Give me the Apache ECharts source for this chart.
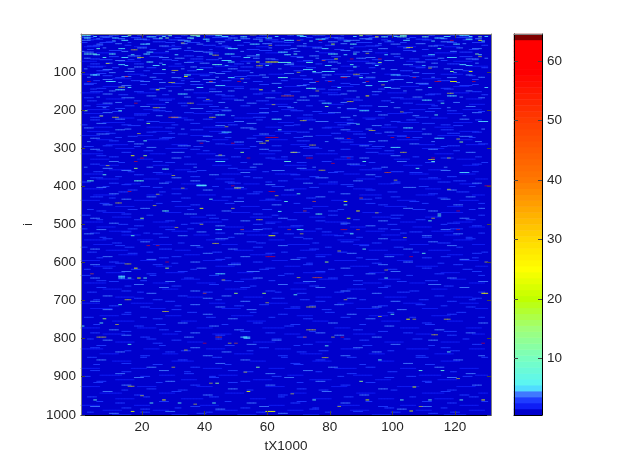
<!DOCTYPE html>
<html>
<head>
<meta charset="utf-8">
<title>heatmap</title>
<style>
html,body{margin:0;padding:0;background:#fff}
#chart{width:622px;height:468px}
</style>
<script src="https://cdn.jsdelivr.net/npm/echarts@6/dist/echarts.min.js"></script>
</head>
<body>
<div id="chart"></div>
<script>
// marks, one row per entry: [i, t, run of columns, level]
var band0 = [[5,1,3,7],[5,16,1,14],[5,29,1,9],[5,36,3,12],[5,44,2,6],[5,70,2,5],[5,90,1,16],[5,103,2,9],[5,122,3,5],
[8,7,4,4],[8,22,3,5],[8,52,2,6],[8,95,1,24],[8,97,2,7],[8,102,3,10],[8,110,2,9],[8,128,1,14],
[11,2,2,6],[11,11,2,5],[11,26,1,9],[11,28,1,13],[11,35,2,7],[11,48,3,4],[11,60,2,5],[11,82,3,4],[11,114,3,5],
[14,5,3,3],[14,18,4,4],[14,40,2,5],[14,56,3,4],[14,76,3,5],[14,92,2,4],[14,108,4,3],[14,124,2,6],
[17,1,3,4],[17,14,2,5],[17,32,3,4],[17,50,2,6],[17,66,3,5],[17,86,4,4],[17,104,2,5],[17,128,1,22],
[21,9,3,3],[21,24,4,3],[21,44,3,4],[21,62,4,3],[21,80,3,4],[21,98,3,3],[21,116,4,4],
[27,6,2,4],[27,20,3,5],[27,38,2,4],[27,55,3,5],[27,81,1,18],[27,87,2,6],[27,100,3,4],[27,120,2,5],
[32,3,4,3],[32,26,3,4],[32,46,2,3],[32,70,3,4],[32,92,4,3],[32,112,3,4],
[39,6,1,7],[39,13,2,5],[39,30,3,4],[39,48,3,5],[39,68,2,4],[39,78,2,5],[39,96,3,4],[39,115,1,7],[39,126,3,4],
[44,10,4,3],[44,34,3,3],[44,58,4,3],[44,84,3,4],[44,104,4,3],
[48,2,3,4],[48,22,2,5],[48,40,3,4],[48,64,3,5],[48,88,2,4],[48,122,4,3],
[53,2,4,7],[53,10,2,6],[53,21,2,5],[53,42,1,7],[53,47,3,5],[53,69,1,7],[53,80,3,6],[53,88,1,7],[53,100,3,4],[53,127,1,13],
[58,16,4,4],[58,34,3,3],[58,54,4,4],[58,74,3,4],[58,110,4,3],
[62,8,1,6],[62,14,2,5],[62,26,3,4],[62,53,2,5],[62,70,2,4],[62,92,3,4],[62,118,3,5],
[66,4,3,3],[66,36,4,3],[66,60,3,4],[66,82,1,22],[66,106,3,3],[66,124,4,4],
[70,12,3,4],[70,30,2,3],[70,46,3,5],[70,72,3,3],[70,98,3,4],[70,116,2,3],
[74,22,2,6],[74,48,2,5],[74,57,1,22],[74,60,4,23],[74,80,3,4],[74,108,3,4],
[75,64,4,7],[75,73,2,7],[75,96,1,16],[75,34,3,4],
[81,13,2,5],[81,27,1,6],[81,43,3,7],[81,66,3,4],[81,87,1,6],[81,104,3,4],[81,122,2,5],
[87,4,4,3],[87,18,3,4],[87,36,2,4],[87,52,4,3],[87,88,1,7],[87,112,3,4],
[94,27,1,8],[94,38,2,6],[94,8,3,4],[94,72,3,5],[94,100,2,4],[94,120,3,4],
[99,15,3,4],[99,46,3,3],[99,75,1,7],[99,78,4,5],[99,119,1,14],[99,125,1,23]];
var band1 = [[104,6,3,3],[104,24,4,3],[104,44,3,4],[104,66,3,4],[104,90,3,3],[104,110,4,3],
[108,4,2,5],[108,5,2,5],[108,34,2,6],[108,58,2,4],[108,78,3,4],[108,100,3,5],[108,124,2,4],
[112,34,1,23],[112,14,3,4],[112,50,4,3],[112,84,3,4],[112,106,3,3],
[115,64,3,7],[115,90,1,7],[115,30,3,4],[115,48,2,5],[115,118,3,4],[115,12,3,3],
[120,8,3,4],[120,24,3,3],[120,40,4,4],[120,72,3,3],[120,100,4,4],[120,126,2,3],
[125,9,2,5],[125,10,2,5],[125,20,3,4],[125,36,3,4],[125,56,3,3],[125,96,3,5],[125,119,2,23],
[130,2,4,3],[130,30,4,3],[130,62,3,4],[130,84,3,3],[130,108,4,4],
[136,14,3,4],[136,44,3,5],[136,70,3,4],[136,92,2,5],[136,122,4,3],
[143,6,3,3],[143,26,2,4],[143,50,3,3],[143,73,3,7],[143,100,3,4],[143,116,3,3],
[147,25,1,23],[147,58,1,22],[147,34,3,4],[147,12,3,5],[147,80,4,3],[147,108,2,4],
[152,4,4,3],[152,18,3,3],[152,42,4,4],[152,68,3,3],[152,94,3,4],[152,126,3,3],
[158,8,3,4],[158,32,3,5],[158,56,3,3],[158,84,2,4],[158,112,4,3],
[163,22,3,4],[163,46,4,3],[163,92,1,24],[163,74,3,4],[163,118,3,5],
[168,2,3,3],[168,14,4,4],[168,38,3,3],[168,60,3,4],[168,100,4,3],[168,128,2,4],
[174,26,4,3],[174,50,3,4],[174,70,4,4],[174,88,3,3],[174,110,3,5],
[182,8,3,4],[182,32,3,3],[182,54,3,4],[182,78,3,5],[182,116,1,7],[182,104,3,3],
[191,79,1,14],[191,6,4,3],[191,20,3,4],[191,42,3,3],[191,64,4,3],[191,96,3,4],[191,124,3,4],
[196,12,3,3],[196,36,4,4],[196,58,3,3],[196,86,3,4],[196,112,4,3]];
var band2 = [[202,2,1,14],[202,13,1,7],[202,24,4,3],[202,46,3,4],[202,68,4,3],[202,90,3,5],[202,118,3,3],
[207,8,3,4],[207,34,3,3],[207,58,3,4],[207,80,4,4],[207,104,3,3],[207,126,3,4],
[213,18,4,3],[213,44,3,5],[213,72,3,3],[213,96,3,4],[213,114,1,7],
[219,4,3,3],[219,30,3,4],[219,56,4,3],[219,84,3,4],[219,108,4,3],
[224,12,3,4],[224,40,3,3],[224,62,3,5],[224,92,3,3],[224,122,3,4],
[230,22,4,3],[230,50,3,4],[230,76,4,4],[230,100,3,3],[230,128,3,5],
[235,22,1,14],[235,6,3,4],[235,36,3,3],[235,54,3,4],[235,86,3,4],[235,110,4,3],
[237,89,1,7],[241,16,4,3],[241,44,3,4],[241,66,3,3],[241,94,3,4],[241,120,3,3],
[247,2,3,4],[247,28,3,3],[247,52,4,4],[247,78,3,3],[247,104,3,5],
[252,64,1,7],[252,12,3,4],[252,36,4,3],[252,84,3,4],[252,116,4,3],
[258,22,3,3],[258,46,3,5],[258,70,4,3],[258,98,3,4],[258,126,3,3],
[263,6,4,4],[263,32,3,3],[263,58,3,4],[263,88,4,3],[263,110,3,4],
[269,16,3,3],[269,40,3,4],[269,72,3,4],[269,102,3,3],[269,122,4,4],
[274,4,3,4],[274,26,4,3],[274,54,3,3],[274,82,3,4],[274,114,3,5],
[281,21,1,7],[281,60,1,24],[281,10,3,3],[281,38,3,4],[281,70,4,3],[281,96,3,4],
[284,122,1,14],[284,50,3,4],[284,84,4,3],[289,18,3,4],[289,44,3,3],[289,106,3,4],[289,128,3,3],
[294,8,3,3],[294,32,4,4],[294,62,3,3],[294,90,3,4],[294,118,4,3],[298,22,3,4],[298,74,3,3],[298,100,3,5]];
var band3 = [[303,4,3,4],[303,36,3,3],[303,58,3,4],[303,84,3,3],[303,112,3,4],
[311,52,1,14],[311,14,3,3],[311,30,4,4],[311,68,3,4],[311,92,4,3],[311,124,3,4],
[320,17,1,23],[320,21,1,16],[320,6,3,3],[320,44,3,4],[320,72,3,3],[320,100,3,4],
[326,30,3,4],[326,60,3,3],[326,90,3,4],[326,116,4,3],
[335,66,2,7],[335,91,1,7],[335,113,1,7],[335,10,3,4],[335,24,3,3],[335,44,3,5],[335,78,3,3],[335,102,3,4],
[342,4,3,3],[342,34,4,3],[342,56,3,4],[342,86,4,4],[342,126,3,3],
[353,18,1,16],[353,108,1,7],[353,8,3,4],[353,48,3,3],[353,70,3,4],[353,94,3,3],
[355,27,2,7],[359,14,3,4],[359,38,3,3],[359,62,4,4],[359,116,3,4],
[364,24,3,3],[364,52,3,4],[364,80,3,3],[364,106,4,3],[364,122,3,5],
[370,8,1,7],[370,18,3,3],[370,42,3,4],[370,68,3,3],[370,92,3,4],
[378,4,4,3],[378,30,3,4],[378,56,3,3],[378,76,4,4],[378,112,3,3],
[386,3,2,7],[386,18,3,7],[386,36,3,4],[386,64,3,3],[386,88,3,4],[386,120,4,3],
[392,10,3,3],[392,26,3,4],[392,48,4,3],[392,72,3,4],[392,100,3,3],[392,126,3,4],
[397,38,3,5],[398,38,3,5],[399,38,3,5],[396,14,3,3],[396,60,3,4],[396,84,4,3]];
var band4 = [[403,6,3,4],[403,24,3,3],[403,50,3,4],[403,74,3,3],[403,104,4,4],
[410,16,3,3],[410,40,3,4],[410,66,3,4],[410,92,3,3],[410,118,3,4],
[420,70,1,7],[420,10,3,4],[420,30,3,3],[420,54,4,3],[420,84,3,4],[420,112,3,3],
[428,4,4,3],[428,22,3,4],[428,46,3,3],[428,76,3,4],[428,100,3,3],[428,124,3,4],
[434,42,1,7],[434,14,3,4],[434,60,3,3],[434,90,4,3],[434,116,3,4],
[440,66,1,7],[440,85,1,23],[440,30,3,3],[440,50,3,4],[440,106,3,3],
[449,85,1,7],[449,8,3,4],[449,36,3,3],[449,62,3,4],[449,96,3,3],[449,120,3,4],
[458,39,1,23],[458,20,3,4],[458,72,3,3],[458,104,3,4],[458,128,2,4],
[465,89,1,24],[465,27,2,7],[466,64,1,6],[465,6,3,3],[465,46,3,4],[465,80,3,3],[465,112,3,4],
[473,76,2,7],[473,115,1,7],[478,115,1,7],[473,14,3,3],[473,34,4,4],[473,56,3,3],
[484,20,1,16],[484,86,1,20],[484,4,3,4],[484,42,3,3],[484,64,3,4],[484,100,3,3],[484,122,3,4],
[491,112,1,7],[491,28,3,3],[491,52,3,4],[491,76,3,3],[491,96,3,4],
[497,10,3,4],[497,36,4,3],[497,60,3,3],[497,84,3,4],[497,118,4,3]];
var band5 = [[504,18,3,3],[504,44,3,4],[504,68,4,3],[504,92,3,4],[504,126,3,3],
[514,44,2,5],[514,70,2,7],[514,6,3,4],[514,28,3,3],[514,56,3,4],[514,100,3,3],[514,116,3,4],
[520,14,3,3],[520,38,3,4],[520,78,3,3],[520,106,4,3],
[525,87,1,7],[525,2,3,4],[525,24,3,3],[525,50,3,4],[525,66,3,3],[525,120,3,4],
[530,17,1,7],[530,61,2,23],[530,32,3,4],[530,82,3,3],[530,110,3,4],
[538,8,3,3],[538,44,4,4],[538,72,3,3],[538,96,3,4],[538,124,3,3],
[546,20,3,4],[546,54,3,3],[546,84,4,3],[546,112,3,4],
[556,12,3,3],[556,36,3,4],[556,64,3,4],[556,90,3,3],[556,118,3,4],
[565,91,1,7],[565,4,3,4],[565,26,4,3],[565,48,3,4],[565,74,3,3],[565,104,3,4],
[576,110,1,7],[576,16,3,3],[576,40,3,4],[576,60,3,3],[576,86,3,4],[576,126,3,3],
[585,8,3,4],[585,30,3,3],[585,52,3,4],[585,76,3,3],[585,98,3,4],[585,116,3,3],
[592,22,3,4],[592,44,3,3],[592,68,3,4],[592,92,4,3],[592,122,3,4],
[599,79,1,16],[599,10,3,3],[599,36,3,4],[599,56,3,3],[599,104,3,4]];
var band6 = [[606,4,3,4],[606,24,3,3],[606,48,4,4],[606,72,3,3],[606,96,3,4],[606,120,3,3],
[615,18,1,23],[615,28,1,16],[615,8,3,3],[615,38,3,4],[615,60,3,3],[615,84,3,4],[615,110,3,3],
[624,14,3,4],[624,32,3,3],[624,54,4,4],[624,76,3,3],[624,100,3,4],[624,126,3,3],
[630,22,3,3],[630,44,3,5],[630,66,3,3],[630,92,3,4],[630,114,3,3],
[636,13,2,5],[638,13,2,5],[641,13,2,5],[641,16,1,7],[641,19,1,22],[641,21,1,7],[641,98,1,7],[641,4,3,4],[641,34,3,3],[641,56,3,4],[641,80,3,3],[641,118,3,4],
[650,10,3,3],[650,28,3,4],[650,50,3,3],[650,72,4,4],[650,102,3,3],[650,128,3,4],
[658,18,3,4],[658,42,3,3],[658,64,3,4],[658,88,3,3],[658,112,4,4],
[666,6,3,3],[666,26,3,4],[666,52,3,3],[666,76,3,4],[666,96,3,3],[666,122,3,4],
[675,14,3,3],[675,36,3,4],[675,60,3,3],[675,84,3,4],[675,106,3,3],
[681,50,1,16],[681,59,1,16],[681,129,2,24],[681,22,3,4],[681,70,3,3],[681,94,3,4],
[685,69,1,7],[688,8,3,4],[688,32,3,3],[688,46,3,4],[688,114,3,3],
[694,18,3,3],[694,40,3,4],[694,62,4,3],[694,86,3,4],[694,126,3,3]];
var band7 = [[702,4,3,4],[702,28,3,3],[702,52,3,4],[702,76,3,3],[702,100,3,4],[702,118,3,3],
[711,13,1,7],[711,36,3,4],[711,58,3,3],[711,82,3,4],[711,108,3,3],
[717,20,3,3],[717,44,3,4],[717,68,3,3],[717,94,3,4],[717,124,3,3],
[724,8,3,4],[724,30,3,3],[724,54,3,4],[724,78,3,3],[724,102,3,4],
[736,100,1,7],[736,14,3,3],[736,40,3,4],[736,64,3,3],[736,86,3,4],[736,118,3,3],
[748,8,1,16],[749,105,1,23],[748,24,3,3],[748,48,3,4],[748,72,3,3],[748,92,3,4],
[759,7,1,7],[759,32,3,4],[759,56,3,3],[759,80,3,4],[759,110,3,3],[759,128,3,4],
[767,1,1,7],[767,18,3,3],[767,42,3,4],[767,66,3,3],[767,98,3,4],
[777,10,3,4],[777,26,3,3],[777,50,3,4],[777,88,3,3],[777,114,3,4],
[785,4,3,3],[785,36,3,4],[785,60,3,3],[785,76,3,4],[785,104,3,3],[785,124,3,4],
[796,53,1,7],[796,52,3,5],[796,20,3,3],[796,34,3,4],[796,70,3,3],[796,94,3,4],
[799,53,2,5],[791,14,3,4],[791,44,3,3],[791,82,3,4],[791,118,3,3]];
var band8 = [[804,8,3,4],[804,30,3,3],[804,62,3,4],[804,90,3,3],[804,112,3,4],
[815,16,1,7],[812,24,3,3],[815,54,3,4],[815,72,3,3],[815,100,3,4],[815,126,3,3],
[819,79,1,7],[824,4,3,3],[824,36,3,4],[824,58,3,3],[824,88,3,4],[824,116,3,3],
[835,118,1,7],[835,12,3,4],[835,28,3,3],[835,46,3,4],[835,70,3,3],[835,94,3,4],
[845,20,3,3],[845,40,3,4],[845,64,3,3],[845,84,3,4],[845,108,3,3],[845,128,2,4],
[856,96,1,7],[856,6,3,4],[856,32,3,3],[856,52,3,4],[856,76,3,3],[856,120,3,4],
[865,14,3,3],[865,44,3,4],[865,68,3,3],[865,104,3,4],
[875,57,1,12],[875,22,3,4],[875,36,3,3],[875,80,3,4],[875,92,3,3],[875,114,3,4],
[884,109,1,7],[884,116,1,7],[884,4,3,3],[884,26,3,4],[884,48,3,3],[884,72,3,4],
[892,12,3,4],[892,34,3,3],[892,60,3,4],[892,86,3,3],[892,124,3,4]];
var band9 = [[902,18,3,4],[902,42,3,3],[902,66,3,4],[902,98,3,3],[902,118,3,4],
[912,90,1,14],[912,6,3,3],[912,28,3,4],[912,52,3,3],[912,76,3,4],[912,110,3,3],
[917,44,1,14],[922,14,3,4],[922,36,3,3],[922,60,3,4],[922,84,3,3],[922,126,3,4],
[927,107,1,22],[932,22,3,3],[932,48,3,4],[932,70,3,3],[932,96,3,4],
[939,54,1,23],[939,8,3,4],[939,30,3,3],[939,78,3,4],[939,116,3,3],
[948,18,3,3],[948,40,3,4],[948,64,3,3],[948,90,3,4],[948,122,3,3],
[961,5,1,7],[961,27,1,23],[961,75,1,7],[961,92,1,22],[961,103,1,7],[961,112,1,7],[961,122,1,7],[961,129,1,23],
[969,23,1,7],[969,32,1,7],[969,43,1,7],[969,12,3,3],[969,54,3,4],[969,68,3,3],[969,84,3,4],[969,118,3,3],
[978,4,3,4],[978,36,3,3],[978,58,3,4],[978,96,3,3],[978,110,3,4],
[985,20,3,3],[985,44,3,4],[985,74,3,3],[985,102,3,4],
[990,106,1,23],[991,17,1,22],[991,60,3,23],[991,28,3,4],[991,88,3,3],
[996,10,3,4],[996,38,3,3],[996,64,3,4],[996,112,3,3]];
// the dim olive / dark red rows, drawn see-through
var thinTop = [[2,6,3,25],[2,40,2,25],[2,75,3,22],[17,70,1,42],[17,77,1,58],[17,119,1,58],[62,19,2,25],[70,78,1,40],[66,87,1,56],[66,96,1,58],
[112,15,1,56],[125,3,1,56],[125,42,1,44],[125,51,1,56],[125,76,1,56],[125,80,1,56],[125,92,1,56],[125,114,2,56],[125,126,1,56],[115,84,2,56],[115,107,1,56],
[182,18,1,56],[182,35,2,25],[219,11,2,25],[219,29,3,40],[219,42,2,25],[163,65,4,42],[275,86,1,56],[272,60,4,58],[272,100,1,58],[272,105,1,58],
[287,39,1,58],[287,49,1,58],[287,58,2,25],
[3,20,1,25],[3,55,2,22],[24,33,1,25],[30,61,1,25],[36,105,2,25],[42,17,2,25],[51,92,1,25],[56,43,2,25],[60,128,1,25],[78,9,1,25],[84,57,2,25],[90,112,1,25],[96,30,2,25],[101,70,1,25],[106,88,2,25],[118,52,1,25],[128,29,2,25],[134,97,1,25],[140,13,2,25],[150,76,1,25],[156,118,2,25],[172,41,1,25],[178,86,2,25],[186,62,1,25],[194,24,2,25],[205,103,1,25],[216,7,1,25],[228,71,2,25],[244,47,1,25],[254,93,2,25],[262,19,1,25],[276,121,1,25],[292,74,2,25]];
var thinMid = [[311,68,2,25],[311,103,2,25],[326,20,1,58],[326,54,1,58],[326,73,2,58],[326,86,1,58],[326,113,1,56],[326,118,1,25],[335,18,1,56],[340,81,1,58],
[364,98,2,44],[399,49,1,58],[399,130,2,56],[405,33,1,25],[405,50,2,25],[414,16,1,56],[414,61,2,58],[421,25,1,25],[431,90,1,42],[440,75,1,42],
[451,24,1,25],[458,49,1,25],[465,72,1,44],[465,121,1,58],[484,113,1,25],[500,39,1,25],[514,52,1,42],[514,67,1,46],[514,84,2,56],[514,89,1,42],[514,121,1,58],
[525,71,1,25],[556,22,1,56],[556,25,1,56],[585,60,3,58],[585,106,1,58],[599,28,1,58],[599,130,1,25],[630,4,1,42],[640,75,3,44],[640,70,1,25],
[318,45,1,25],[330,112,2,25],[346,9,1,25],[358,77,2,25],[372,30,1,25],[384,101,1,25],[408,118,1,25],[425,63,1,25],[444,12,2,25],[470,95,1,25],[488,57,2,25],[508,31,1,25],[535,104,1,25],[550,43,2,25],[570,83,1,25],[604,15,2,25],[620,98,1,25],[646,46,1,25]];
var thinLow = [[681,40,1,44],[698,15,2,25],[698,85,1,25],[717,73,3,25],[749,107,1,25],[749,117,2,25],[777,73,3,25],[796,6,3,25],[796,44,2,46],[796,72,1,42],[796,81,1,25],[796,84,1,58],
[812,40,1,58],[812,48,1,25],[812,50,1,42],[812,129,1,58],[875,30,1,25],[917,42,1,25],[950,20,1,25],[978,109,1,25],[978,83,1,25],
[706,60,1,25],[729,27,2,25],[742,96,1,25],[763,12,1,25],[790,113,2,25],[830,34,1,25],[850,78,2,25],[888,53,1,25],[905,121,1,25],[925,16,2,25],[945,68,1,25],[972,37,1,25]];
// faint streaks, one pixel row per entry: [i, level, t, run, t, run, ...]
var rowsUpper = [
[3,4,3,2,10,3,19,1,25,4,33,2,41,3,49,1,58,3,67,2,75,4,84,1,92,2,99,3,112,2,119,4],
[7,5,5,1,14,2,27,1,38,1,46,2,63,1,71,2,88,1,101,1,117,2,125,1,130,1],
[10,3,1,4,8,2,17,3,31,2,43,5,57,3,73,2,79,4,93,3,106,2,121,5],
[13,4,6,1,13,2,24,3,36,1,52,3,65,1,78,2,90,4,105,1,116,2,127,2],
[16,3,3,2,21,2,29,5,47,2,60,4,71,1,83,3,97,2,110,3,123,3],
[19,5,11,1,34,2,41,1,58,1,74,1,85,2,99,1,113,1,129,1],
[23,3,1,2,7,4,16,1,28,3,35,4,53,2,66,3,77,1,89,5,103,2,118,3,126,4],
[26,4,12,2,22,1,33,2,45,1,59,3,72,1,84,2,96,1,108,3,123,1],
[30,3,5,3,15,2,30,1,40,4,51,2,63,5,79,3,95,2,114,3,129,2],
[34,2,2,5,18,4,27,6,44,5,57,4,72,6,88,4,102,6,117,5],
[37,4,8,1,19,3,35,1,47,2,61,1,75,3,87,1,104,2,121,2],
[41,3,3,2,23,2,29,3,42,1,54,4,66,2,82,3,93,1,110,2,125,3],
[46,4,1,1,14,2,28,1,37,3,52,1,69,2,76,1,91,3,107,1,119,2],
[50,2,6,6,24,5,41,4,60,6,77,5,95,4,114,7],
[55,5,5,2,17,1,31,1,57,1,66,2,85,1,98,1,112,2,128,1],
[60,3,10,3,23,4,38,2,49,3,68,4,81,3,101,2,122,4],
[64,4,2,2,19,1,31,3,45,1,56,2,76,1,89,3,103,1,115,2,130,1],
[68,3,7,4,16,2,27,3,41,4,62,2,78,4,94,3,111,4,126,2],
[72,2,1,5,13,7,35,5,52,6,70,5,86,7,105,4,120,6],
[77,4,9,2,26,1,39,3,54,1,67,2,83,1,92,3,113,2,127,1],
[79,3,4,3,18,3,31,2,50,3,58,4,76,2,94,3,118,4],
[83,5,15,1,24,2,47,1,60,1,79,2,95,1,110,1,124,2],
[85,2,3,6,29,5,44,7,68,5,84,6,106,5,125,6],
[89,3,11,2,22,3,39,4,57,2,73,3,93,2,108,3,129,2],
[92,4,2,1,16,2,33,1,48,3,64,1,81,2,97,1,117,2],
[97,3,6,4,21,2,35,3,51,4,69,3,86,2,103,4,123,3],
[102,4,10,2,30,1,42,2,55,1,75,3,94,1,107,2,120,1],
[106,2,1,6,16,5,36,7,61,5,82,6,98,5,116,7],
[110,3,8,3,20,2,39,3,54,4,71,2,88,3,102,4,125,2],
[114,4,3,1,23,2,44,1,59,2,78,1,92,3,113,1,128,2],
[118,2,11,6,32,5,49,6,68,7,90,5,110,6],
[123,3,5,2,17,4,33,1,46,3,65,2,79,3,99,2,115,4],
[128,4,13,1,26,2,41,3,53,1,74,2,91,1,105,2,121,1],
[133,3,2,3,20,2,36,4,58,3,72,2,87,3,109,3,126,2],
[138,2,8,7,28,5,47,6,66,5,81,7,103,6,120,5],
[141,5,16,1,38,2,64,1,83,1,98,2,112,1,130,1],
[145,3,4,2,23,3,42,2,55,3,75,4,96,2,117,3],
[150,4,10,2,29,1,48,2,62,1,86,3,104,1,124,2],
[155,2,1,6,19,6,37,5,58,7,78,5,99,6,119,6],
[160,3,13,3,27,2,44,3,66,2,80,4,94,2,111,3,129,2],
[166,4,6,1,34,2,53,1,71,2,89,1,107,3,122,1],
[171,2,9,6,24,7,46,5,63,6,85,5,103,7,124,5],
[176,3,3,3,18,2,40,3,57,4,77,2,97,3,115,2],
[180,4,12,2,28,1,45,2,69,1,84,2,100,1,120,2],
[185,2,6,5,22,6,38,5,60,7,80,5,108,6,125,5],
[189,3,2,2,15,3,33,2,52,3,73,2,90,4,113,2],
[194,4,8,1,26,2,47,1,67,2,83,1,101,2,118,1],
[199,2,3,7,21,5,43,6,65,5,86,7,106,5,123,6]];
var rowsMiddle = [
[204,3,11,3,28,2,41,4,62,2,75,3,95,2,111,3,128,2],
[209,2,2,6,18,5,37,6,54,7,77,5,99,6,118,5],
[215,4,7,1,25,2,49,1,66,2,88,1,107,2,123,1],
[221,2,12,6,30,5,50,6,70,5,91,7,113,5],
[226,3,4,3,19,2,34,3,57,2,72,4,86,2,105,3,127,2],
[233,2,8,7,26,5,44,6,64,5,82,6,102,7,120,6],
[239,3,1,2,14,3,30,2,48,3,69,2,83,4,98,2,116,3],
[245,2,5,6,22,5,40,7,60,5,79,6,97,5,114,6],
[250,4,15,2,33,1,55,2,74,1,92,2,110,1,129,1],
[256,2,3,7,24,6,42,5,63,7,86,5,104,6,122,6],
[261,3,9,3,29,2,45,3,66,2,81,3,95,2,118,4],
[267,2,1,6,19,5,36,6,56,7,76,5,99,6,115,7],
[272,3,12,2,27,4,47,2,69,3,90,2,107,3,125,2],
[278,2,6,5,22,7,43,5,61,6,83,5,102,7,121,5],
[283,4,3,1,16,2,41,1,57,2,79,1,93,2,113,1,127,2],
[291,2,9,7,30,5,47,6,68,5,87,7,109,5,124,6],
[296,3,2,3,18,2,37,3,55,2,71,3,94,4,116,2],
[301,2,12,6,28,7,50,5,72,6,92,5,110,7],
[307,3,6,2,21,3,40,2,61,4,80,2,98,3,120,2],
[315,2,1,7,23,5,38,6,58,5,76,7,96,5,114,6],
[323,3,10,3,34,2,49,3,65,2,84,4,107,2,127,2],
[329,2,4,6,19,5,41,7,62,5,82,6,101,5,121,6],
[338,3,13,2,28,3,52,2,70,3,93,2,111,3,129,2],
[345,2,7,6,24,5,43,6,66,7,87,5,104,6,123,5],
[350,4,2,1,22,2,37,1,55,2,75,1,97,2,117,1],
[357,2,10,7,31,5,51,6,71,5,90,7,112,6],
[362,3,5,3,16,2,35,3,59,2,82,3,100,4,126,2],
[368,2,2,6,25,5,46,6,63,7,85,5,106,6,122,5],
[375,3,12,2,36,3,53,2,74,3,95,2,118,3],
[381,2,6,7,21,5,44,6,69,5,89,6,109,7,127,4],
[389,3,1,3,28,2,47,3,60,2,80,3,101,2,115,4],
[394,2,15,5,33,6,53,5,77,6,96,5,122,6],
[401,3,8,2,20,3,43,2,62,4,86,2,109,3,125,2],
[407,2,2,6,30,5,47,7,68,5,88,6,111,5],
[415,3,13,3,26,2,56,3,80,2,99,3,121,4],
[423,2,5,7,22,5,38,6,65,5,90,7,108,6,126,4],
[431,3,10,2,33,3,51,2,73,3,95,2,115,3],
[437,2,1,6,18,6,43,5,58,7,81,5,102,6,122,6],
[445,3,7,3,25,2,47,3,69,2,92,3,110,2,128,2],
[453,2,12,6,31,5,52,6,75,5,98,7,118,5],
[461,3,3,2,16,3,35,2,59,3,83,2,107,4,125,2],
[469,2,8,7,28,5,49,6,69,5,91,6,116,7],
[476,3,1,3,22,2,41,3,62,2,80,3,100,4,128,2],
[481,2,11,6,36,5,55,7,74,5,94,6,111,5],
[488,3,6,2,18,3,46,2,67,3,88,2,108,3,124,3],
[494,2,2,6,24,5,40,6,60,5,79,7,103,5,120,6],
[500,3,13,3,33,2,56,3,84,2,99,3,116,2]];
var rowsLower = [
[507,2,6,6,26,5,47,6,64,7,87,5,107,6,125,5],
[512,3,1,2,16,3,35,2,59,3,76,2,96,3,119,4],
[518,2,10,7,30,5,52,6,71,5,92,6,113,7],
[523,3,4,3,21,2,44,3,62,2,85,3,103,2,128,2],
[528,2,14,6,37,5,54,7,78,5,97,6,117,5],
[534,3,7,2,26,3,48,2,69,3,89,2,110,3,124,2],
[541,2,2,7,19,5,41,6,61,5,83,7,100,5,120,6],
[549,3,11,3,32,2,57,3,75,2,94,3,115,4],
[553,2,5,6,24,6,46,5,67,7,88,5,106,6,126,4],
[560,3,1,2,15,3,38,2,56,3,79,2,101,3,121,2],
[568,2,9,7,31,5,50,6,71,5,93,6,112,7],
[573,3,3,3,22,2,43,3,65,2,83,3,107,2,129,2],
[580,2,13,6,34,5,55,7,76,5,98,6,118,5],
[588,3,6,2,26,3,47,2,70,3,89,2,110,3,126,2],
[595,2,1,6,20,5,40,6,62,5,82,7,102,5,122,6],
[602,3,12,3,30,2,49,3,73,2,94,3,115,2],
[610,2,5,7,25,5,44,6,66,5,87,6,108,7,127,4],
[618,3,2,2,17,3,36,2,58,3,80,2,99,3,123,3],
[627,2,9,6,28,6,51,5,72,7,93,5,116,6],
[634,3,1,3,23,2,42,3,64,2,85,3,105,2,128,2],
[644,2,13,5,33,6,52,5,77,6,96,7,119,5],
[648,3,6,3,20,2,46,3,61,2,88,3,111,4],
[654,2,2,7,24,5,38,6,69,5,91,6,106,5,125,5],
[662,3,15,2,30,3,55,2,74,3,98,2,117,3],
[670,2,8,6,27,5,47,7,68,5,86,6,113,5],
[678,3,3,3,19,2,40,3,63,2,82,3,102,4,128,2],
[691,2,12,6,35,5,53,6,76,5,98,7,120,6],
[698,3,5,2,24,3,44,2,71,3,90,2,109,3,125,2],
[707,2,1,6,17,7,42,5,61,6,83,5,104,6,122,6],
[714,3,10,3,31,2,50,3,74,2,96,3,116,2],
[721,2,4,7,23,5,46,6,66,5,89,7,110,5,127,4],
[731,3,15,2,35,3,55,2,79,3,99,2,121,3],
[740,2,7,6,28,5,49,7,70,5,93,6,113,6],
[744,3,2,3,20,2,41,3,61,2,84,3,106,2,128,2],
[754,2,11,7,33,5,54,6,75,5,97,6,118,5],
[763,3,5,2,25,3,46,2,68,3,90,2,111,3],
[772,2,1,6,19,6,38,5,59,7,82,5,103,6,124,5],
[781,3,14,3,31,2,52,3,74,2,96,3,117,4],
[788,2,8,7,27,5,43,6,66,5,88,7,108,5,126,4],
[801,3,3,2,22,3,44,2,62,3,85,2,107,3,123,2],
[809,2,12,6,35,5,56,7,76,5,98,6,116,6],
[818,3,6,3,26,2,47,3,69,2,91,3,112,2],
[827,2,1,7,21,5,41,6,63,5,84,6,105,7,125,5],
[832,3,15,2,33,3,54,2,77,3,99,2,119,3],
[840,2,7,6,27,5,50,6,71,7,93,5,114,6],
[849,3,3,3,20,2,43,3,65,2,86,3,108,4,129,2],
[859,2,11,6,30,7,55,5,75,6,96,5,116,6],
[868,3,5,2,24,3,47,2,69,3,90,2,111,3],
[878,2,1,6,17,5,40,6,61,5,82,7,103,5,122,6],
[887,3,14,3,34,2,53,3,76,2,99,3,119,2],
[896,2,7,7,26,5,45,6,67,5,88,6,109,7,127,4],
[899,3,2,2,20,3,42,2,62,3,83,2,105,3,123,3],
[908,2,12,6,33,5,56,6,74,7,95,5,115,6],
[915,3,5,3,25,2,48,3,70,2,92,3,111,2],
[926,2,1,6,19,6,38,5,60,6,81,5,102,7,121,6],
[935,3,14,2,32,3,54,2,77,3,100,2,118,3],
[943,2,7,7,26,5,47,6,68,5,89,6,110,7,128,3],
[953,3,3,3,21,2,42,3,64,2,85,3,106,2,125,3],
[958,2,12,6,33,7,55,5,75,6,96,5,114,6],
[965,3,6,2,26,3,47,2,70,3,92,2,110,3,129,2],
[975,2,1,6,18,5,39,6,61,5,83,7,103,5,122,6],
[982,3,14,3,31,2,52,3,75,2,98,3,116,2],
[988,2,8,6,24,5,44,7,67,5,87,6,108,5,125,5],
[993,3,3,2,20,3,41,2,57,3,79,2,100,3,119,3],
[999,2,11,6,30,5,51,6,72,5,94,6,117,7]];
var xLabelStep = 20, yLabelStep = 100, barLabelStep = 10;
var tCount = 131, iCount = 1000, levelCount = 64;
var barLevels = [];
for (var l = 1; l <= levelCount; l++) barLevels.push(l);

var ts = [], is = [];
for (var a = 1; a <= tCount; a++) ts.push(a);
for (var b = 1; b <= iCount; b++) is.push(b);

// expand runs to heatmap cells
function cells(list) {
  var out = [];
  list.forEach(function (m) {
    for (var k = 0; k < m[2]; k++) {
      if (m[1] + k <= tCount) out.push([m[1] + k - 1, m[0] - 1, m[3]]);
    }
  });
  return out;
}
function rowMarks(rows) {
  var out = [];
  rows.forEach(function (r) {
    for (var p = 2; p < r.length; p += 2) out.push([r[0], r[p], r[p + 1], r[1]]);
  });
  return out;
}

// colour map, taken from the colour bar
var stops = [[1,0,0,204],[2,15,30,245],[3,30,60,255],[4,64,120,255],[5,80,220,255],[6,92,245,240],[10,120,255,192],[15,160,255,120],
  [20,192,255,0],[25,255,255,0],[30,255,216,0],[40,255,120,0],[50,255,60,0],[58,255,0,0],[63,255,0,0],[64,128,0,0]];
var palette = barLevels.map(function (v) {
  for (var s = 0; s < stops.length - 1; s++) {
    if (v <= stops[s + 1][0]) {
      var f = (v - stops[s][0]) / (stops[s + 1][0] - stops[s][0]);
      var c = [1, 2, 3].map(function (n) { return Math.round(stops[s][n] + f * (stops[s + 1][n] - stops[s][n])); });
      return 'rgb(' + c.join(',') + ')';
    }
  }
});

var font = { color: '#262626', fontFamily: 'Liberation Sans', fontSize: 13.5 };
function every(step) { return function (idx, val) { return Number(val) % step === 0; }; }
function edge(color) { return { show: true, onZero: false, lineStyle: { color: color, width: 1 } }; }
function ticks(step, on) {
  return { show: on, inside: true, length: 4, alignWithLabel: true, interval: every(step), lineStyle: { color: '#444' } };
}
function catAxis(o) {
  var base = { type: 'category', z: 5, splitLine: { show: false }, axisLabel: { show: false } };
  for (var k in o) base[k] = o[k];
  return base;
}

var chart = echarts.init(document.getElementById('chart'));
chart.setOption({
  animation: false,
  backgroundColor: '#fff',
  grid: [
    { left: 81, top: 34, width: 410, height: 381, show: true, backgroundColor: palette[0], borderWidth: 0 },
    { left: 514, top: 34, width: 28, height: 381 }
  ],
  visualMap: { show: false, type: 'continuous', min: 1, max: levelCount, dimension: 2, seriesIndex: [0, 1, 2], inRange: { color: palette } },
  xAxis: [
    catAxis({ gridIndex: 0, data: ts, position: 'bottom', axisLine: edge('#000'), axisTick: ticks(xLabelStep, true),
      axisLabel: Object.assign({ show: true, margin: 5, interval: every(xLabelStep) }, font),
      name: 'tX1000', nameLocation: 'middle', nameGap: 24, nameTextStyle: font }),
    catAxis({ gridIndex: 0, data: ts, position: 'top', axisLine: edge('#808080'), axisTick: ticks(xLabelStep, true) }),
    catAxis({ gridIndex: 1, data: ['c'], position: 'bottom', axisLine: edge('#000'), axisTick: { show: false } }),
    catAxis({ gridIndex: 1, data: ['c'], position: 'top', axisLine: edge('#808080'), axisTick: { show: false } })
  ],
  yAxis: [
    catAxis({ gridIndex: 0, data: is, inverse: true, position: 'left', axisLine: edge('#808080'), axisTick: ticks(yLabelStep, true),
      axisLabel: Object.assign({ show: true, margin: 5, padding: [6, 0, 0, 0], interval: every(yLabelStep) }, font),
      name: 'i', nameLocation: 'middle', nameGap: 40, nameTextStyle: font }),
    catAxis({ gridIndex: 0, data: is, inverse: true, position: 'right', axisLine: edge('#808080'), axisTick: ticks(yLabelStep, true) }),
    catAxis({ gridIndex: 1, data: barLevels, position: 'right', axisLine: edge('#000'), axisTick: ticks(barLabelStep, true),
      axisLabel: Object.assign({ show: true, margin: 5, padding: [6, 0, 0, 0], interval: every(barLabelStep) }, font) }),
    catAxis({ gridIndex: 1, data: barLevels, position: 'left', axisLine: edge('#000'), axisTick: ticks(barLabelStep, true) })
  ],
  series: [
    { type: 'heatmap', xAxisIndex: 0, yAxisIndex: 0, progressive: 0, silent: true,
      data: cells(rowMarks([].concat(rowsUpper, rowsMiddle, rowsLower)).concat(band0, band1, band2, band3, band4, band5, band6, band7, band8, band9)) },
    { type: 'heatmap', xAxisIndex: 0, yAxisIndex: 0, progressive: 0, silent: true, itemStyle: { opacity: 0.6 },
      data: cells([].concat(thinTop, thinMid, thinLow)) },
    { type: 'heatmap', xAxisIndex: 2, yAxisIndex: 2, progressive: 0, silent: true,
      data: barLevels.map(function (v, n) { return [0, n, v]; }) }
  ]
});
</script>
</body>
</html>
